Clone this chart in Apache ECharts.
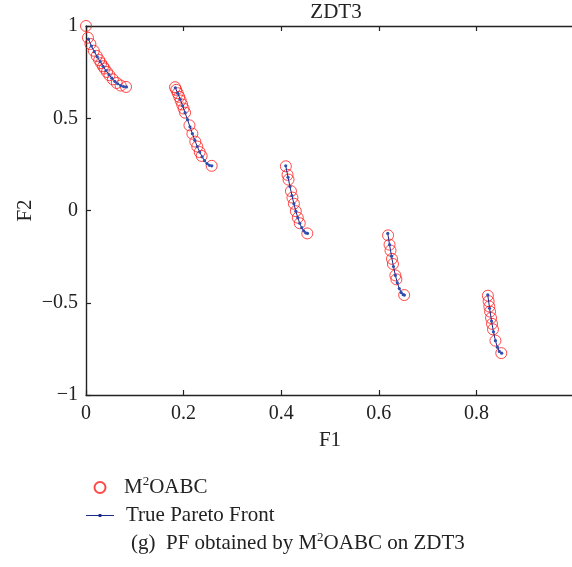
<!DOCTYPE html>
<html>
<head>
<meta charset="utf-8">
<script src="https://cdn.jsdelivr.net/npm/echarts@6/dist/echarts.min.js"></script>
<style>html,body{margin:0;padding:0;background:#fff}#c{width:572px;height:567px}</style>
</head>
<body>
<div id="c"></div>
<script>
// ---- data ----
const xTicks = [0, 0.2, 0.4, 0.6, 0.8, 1];
const yTicks = [-1, -0.5, 0, 0.5, 1];
const titleText = 'ZDT3';
const xName = 'F1';
const yName = 'F2';

// M2OABC obtained solutions [F1, F2]
const oabcPoints = [
  [0, 1], [0.004, 0.9362], [0.009, 0.9026], [0.016, 0.8658], [0.022, 0.8377],
  [0.027, 0.8154], [0.031, 0.7983], [0.035, 0.7817], [0.038, 0.7697], [0.043, 0.7507],
  [0.048, 0.7330], [0.055, 0.7112], [0.063, 0.6912], [0.071, 0.6774], [0.082, 0.6697],
  [0.1825, 0.6682], [0.185, 0.6539], [0.188, 0.6356], [0.191, 0.6162], [0.194, 0.5959],
  [0.197, 0.5747], [0.200, 0.5528], [0.203, 0.5303], [0.212, 0.4615], [0.218, 0.4163],
  [0.224, 0.3734], [0.228, 0.3468], [0.233, 0.3167], [0.237, 0.2957], [0.2575, 0.2422],
  [0.4095, 0.2397], [0.413, 0.1933], [0.415, 0.1674], [0.420, 0.1051], [0.423, 0.0699],
  [0.426, 0.0368], [0.430, -0.0036], [0.434, -0.0391], [0.438, -0.0691], [0.4535, -0.1242],
  [0.619, -0.1347], [0.622, -0.1851], [0.624, -0.2171], [0.627, -0.2621], [0.629, -0.2901],
  [0.634, -0.3518], [0.636, -0.3730], [0.652, -0.4582],
  [0.8235, -0.4617], [0.825, -0.4917], [0.8265, -0.5204], [0.828, -0.5479], [0.830, -0.5825],
  [0.832, -0.6146], [0.834, -0.6441], [0.839, -0.7054], [0.851, -0.7731]
];

// True Pareto front, five disconnected pieces [F1, F2]
const pfSeg1 = [
  [0.005, 0.9285], [0.011, 0.8914], [0.017, 0.8610], [0.023, 0.8331], [0.029, 0.8068],
  [0.035, 0.7817], [0.041, 0.7581], [0.047, 0.7364], [0.053, 0.7170], [0.059, 0.7004],
  [0.065, 0.6871], [0.071, 0.6774], [0.077, 0.6716], [0.083, 0.6696]
];
const pfSeg2 = [
  [0.183, 0.6654], [0.188, 0.6356], [0.193, 0.6028], [0.198, 0.5675], [0.203, 0.5303],
  [0.208, 0.4922], [0.213, 0.4539], [0.218, 0.4163], [0.223, 0.3803], [0.228, 0.3468],
  [0.233, 0.3167], [0.238, 0.2909], [0.243, 0.2699], [0.248, 0.2545], [0.253, 0.2451],
  [0.2578, 0.2422]
];
const pfSeg3 = [
  [0.4093, 0.2423], [0.414, 0.1803], [0.418, 0.1295], [0.422, 0.0814], [0.426, 0.0368],
  [0.430, -0.0036], [0.434, -0.0391], [0.438, -0.0691], [0.442, -0.0929], [0.446, -0.1103],
  [0.450, -0.1208], [0.4539, -0.1241]
];
const pfSeg4 = [
  [0.6184, -0.1242], [0.622, -0.1851], [0.626, -0.2475], [0.630, -0.3034], [0.634, -0.3518],
  [0.638, -0.3920], [0.642, -0.4231], [0.646, -0.4446], [0.650, -0.4562], [0.6525, -0.4583]
];
const pfSeg5 = [
  [0.8233, -0.4576], [0.827, -0.5297], [0.831, -0.5989], [0.835, -0.6578], [0.839, -0.7054],
  [0.843, -0.7409], [0.847, -0.7636], [0.8518, -0.7734]
];
const pfSegments = [pfSeg1, pfSeg2, pfSeg3, pfSeg4, pfSeg5];

const nameOABC = 'M2OABC';
const namePF = 'True Pareto Front';

// ---- chart ----
const FONT = '"Liberation Serif", "DejaVu Serif", serif';
const RED = '#ff1a1a';
const DOT = '#2f4fb0';
const LINE = '#1b2a86';
const TXT = '#222';

const fmtNum = v => {
  const s = String(Math.round(v * 100) / 100);
  return s.replace('-', '\u2212');
};

const chart = echarts.init(document.getElementById('c'), null, {renderer: 'canvas'});

const series = [];
pfSegments.forEach(seg => {
  series.push({
    name: namePF,
    type: 'line',
    data: seg,
    showSymbol: true,
    symbol: 'circle',
    symbolSize: 3.2,
    itemStyle: {color: DOT},
    lineStyle: {color: LINE, width: 1},
    z: 3,
    animation: false,
    silent: true
  });
});
series.push({
  name: nameOABC,
  type: 'scatter',
  data: oabcPoints,
  symbol: 'circle',
  symbolSize: 11,
  itemStyle: {color: 'rgba(0,0,0,0)', borderColor: RED, borderWidth: 1},
  z: 2,
  animation: false,
  silent: true
});

const axisCommon = {
  axisLine: {show: true, onZero: false, lineStyle: {color: TXT, width: 1.4}},
  axisTick: {show: true, inside: true, length: 5, lineStyle: {color: TXT, width: 1.2}},
  splitLine: {show: false}
};

chart.setOption({
  animation: false,
  backgroundColor: '#fff',
  title: {
    text: titleText,
    left: 331,
    top: -3,
    textAlign: 'center',
    textStyle: {fontFamily: FONT, fontSize: 21, fontWeight: 'normal', color: TXT}
  },
  grid: {left: 86, top: 26, width: 488, height: 369, containLabel: false, outerBoundsMode: 'none'},
  xAxis: [
    Object.assign({
      type: 'value', min: xTicks[0], max: xTicks[xTicks.length - 1],
      interval: xTicks[1] - xTicks[0], position: 'bottom',
      name: xName, nameLocation: 'middle', nameGap: 35,
      nameTextStyle: {fontFamily: FONT, fontSize: 21, color: TXT},
      axisLabel: {
        fontFamily: FONT, fontSize: 20, color: TXT, margin: 9,
        formatter: v => (v >= 1 ? '' : fmtNum(v))
      }
    }, axisCommon),
    Object.assign({
      type: 'value', min: xTicks[0], max: xTicks[xTicks.length - 1],
      interval: xTicks[1] - xTicks[0], position: 'top',
      axisLabel: {show: false}
    }, axisCommon)
  ],
  yAxis: [
    Object.assign({
      type: 'value', min: yTicks[0], max: yTicks[yTicks.length - 1],
      interval: yTicks[1] - yTicks[0], position: 'left',
      name: yName, nameLocation: 'middle', nameGap: 50, nameRotate: 90, nameMoveOverlap: false,
      nameTextStyle: {fontFamily: FONT, fontSize: 21, color: TXT},
      axisLabel: {fontFamily: FONT, fontSize: 20, color: TXT, margin: 8, formatter: fmtNum}
    }, axisCommon)
  ],
  legend: {
    orient: 'vertical',
    left: 81,
    top: 470,
    itemWidth: 28,
    itemHeight: 11,
    itemGap: 7,
    selectedMode: false,
    data: [
      {name: nameOABC, icon: 'emptyCircle', itemStyle: {color: RED, borderColor: RED, borderWidth: 1}},
      {name: namePF, icon: 'path://M0,5.2H28V6H0Z M12.6,4.1H15.4V7.1H12.6Z', itemStyle: {color: LINE, borderWidth: 0}}
    ],
    formatter: n => n === nameOABC ? '{f|M}{s|2}{t|OABC}' : '{g|' + n + '}',
    textStyle: {
      fontFamily: FONT, fontSize: 21, color: TXT,
      rich: {
        f: {fontFamily: FONT, fontSize: 21, color: TXT, padding: [0, 0, 0, 5]},
        g: {fontFamily: FONT, fontSize: 21, color: TXT, padding: [0, 0, 0, 7]},
        t: {fontFamily: FONT, fontSize: 21, color: TXT},
        s: {fontFamily: FONT, fontSize: 13, color: TXT, padding: [0, 0, 12, 0]}
      }
    }
  },
  graphic: [{
    type: 'text',
    left: 131,
    top: 531,
    style: {
      text: '{t|(g)  PF obtained by M}{s|2}{t|OABC on ZDT3}',
      rich: {
        t: {fontFamily: FONT, fontSize: 21, fill: TXT},
        s: {fontFamily: FONT, fontSize: 13, fill: TXT, padding: [0, 0, 12, 0]}
      }
    }
  }],
  series: series
});
</script>
</body>
</html>
